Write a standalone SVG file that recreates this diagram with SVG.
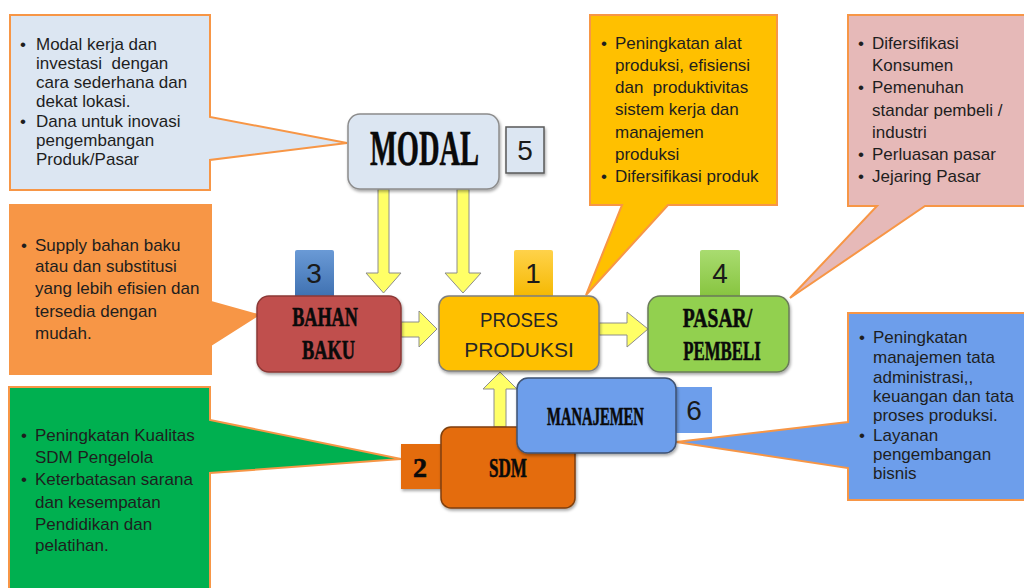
<svg xmlns="http://www.w3.org/2000/svg" width="1024" height="588" viewBox="0 0 1024 588">
<style>
.co{stroke:#f79646;stroke-width:2;stroke-linejoin:miter}
.ct{font-family:"Liberation Sans",Arial,sans-serif;font-size:17px;fill:#1e1e1e}
.ttl{font-family:"Liberation Serif","Times New Roman",serif;font-weight:bold;fill:#0a0a0a;stroke:#0a0a0a;stroke-width:0.6;text-anchor:middle}
.lbl{font-family:"Liberation Sans",Arial,sans-serif;fill:#262626;text-anchor:middle}
.num{font-family:"Liberation Sans",Arial,sans-serif;font-size:28px;fill:#1a1a1a;text-anchor:middle}
.arr{fill:#ffff66;stroke:#8c8c8c;stroke-width:1;stroke-linejoin:miter}
.nd{stroke-width:1.5;filter:url(#sh)}
.pre{white-space:pre}
</style>
<defs>
<filter id="sh" x="-10%" y="-10%" width="125%" height="130%">
<feDropShadow dx="1" dy="2" stdDeviation="1.5" flood-color="#000" flood-opacity="0.35"/>
</filter>
<linearGradient id="gBlue" x1="0" y1="0" x2="0" y2="1"><stop offset="0" stop-color="#6a9ad6"/><stop offset="1" stop-color="#3e70b0"/></linearGradient>
<linearGradient id="gYel" x1="0" y1="0" x2="0" y2="1"><stop offset="0" stop-color="#ffd24a"/><stop offset="1" stop-color="#f5b800"/></linearGradient>
<linearGradient id="gGrn" x1="0" y1="0" x2="0" y2="1"><stop offset="0" stop-color="#a9dc70"/><stop offset="1" stop-color="#86c43e"/></linearGradient>
</defs>
<rect width="1024" height="588" fill="#ffffff"/>

<!-- callouts -->
<g id="callout-modal">
<path class="co" fill="#dce6f2" d="M10,15 H210 V117 L347,143 L210,160 V190 H10 Z"/>
<text class="ct" x="20" y="50">•</text><text class="ct" x="36" y="50">Modal kerja dan</text>
<text class="ct pre" x="36" y="69">investasi  dengan</text>
<text class="ct" x="36" y="88">cara sederhana dan</text>
<text class="ct" x="36" y="107">dekat lokasi.</text>
<text class="ct" x="20" y="127">•</text><text class="ct" x="36" y="127">Dana untuk inovasi</text>
<text class="ct" x="36" y="146">pengembangan</text>
<text class="ct" x="36" y="165">Produk/Pasar</text>
</g>

<g id="callout-proses">
<path class="co" fill="#ffc000" d="M590,15 H777 V205 H668 L586,295 L622,205 H590 Z"/>
<text class="ct" x="601" y="49">•</text><text class="ct" x="615" y="49">Peningkatan alat</text>
<text class="ct" x="615" y="71">produksi, efisiensi</text>
<text class="ct pre" x="615" y="93">dan  produktivitas</text>
<text class="ct" x="615" y="115">sistem kerja dan</text>
<text class="ct" x="615" y="138">manajemen</text>
<text class="ct" x="615" y="160">produksi</text>
<text class="ct" x="601" y="182">•</text><text class="ct" x="615" y="182">Difersifikasi produk</text>
</g>

<g id="callout-pasar">
<path class="co" fill="#e6b9b8" d="M848,15 H1030 V206 H925 L790,298 L877,206 H848 Z"/>
<text class="ct" x="858" y="49">•</text><text class="ct" x="872" y="49">Difersifikasi</text>
<text class="ct" x="872" y="71">Konsumen</text>
<text class="ct" x="858" y="93">•</text><text class="ct" x="872" y="93">Pemenuhan</text>
<text class="ct" x="872" y="116">standar pembeli /</text>
<text class="ct" x="872" y="138">industri</text>
<text class="ct" x="858" y="160">•</text><text class="ct" x="872" y="160">Perluasan pasar</text>
<text class="ct" x="858" y="182">•</text><text class="ct" x="872" y="182">Jejaring Pasar</text>
</g>

<g id="callout-bahan">
<path class="co" fill="#f79646" stroke="#e8873a" d="M10,205 H211 V302 L258,315 L211,345 V374 H10 Z"/>
<text class="ct" x="21" y="251">•</text><text class="ct" x="35" y="251">Supply bahan baku</text>
<text class="ct" x="35" y="272">atau dan substitusi</text>
<text class="ct" x="35" y="294">yang lebih efisien dan</text>
<text class="ct" x="35" y="317">tersedia dengan</text>
<text class="ct" x="35" y="339">mudah.</text>
</g>

<g id="callout-sdm">
<path class="co" fill="#00b050" d="M9,387 H210 V420 L401,459 L210,473 V600 H9 Z"/>
<text class="ct" x="21" y="441">•</text><text class="ct" x="35" y="441">Peningkatan Kualitas</text>
<text class="ct" x="35" y="463">SDM Pengelola</text>
<text class="ct" x="21" y="485">•</text><text class="ct" x="35" y="485">Keterbatasan sarana</text>
<text class="ct" x="35" y="508">dan kesempatan</text>
<text class="ct" x="35" y="530">Pendidikan dan</text>
<text class="ct" x="35" y="551">pelatihan.</text>
</g>

<g id="callout-manajemen">
<path class="co" fill="#6d9eeb" d="M848,313 H1030 V500 H848 V468 L676,442 L848,422 Z"/>
<text class="ct" x="859" y="343">•</text><text class="ct" x="873" y="343">Peningkatan</text>
<text class="ct" x="873" y="363">manajemen tata</text>
<text class="ct" x="873" y="383">administrasi,,</text>
<text class="ct" x="873" y="402">keuangan dan tata</text>
<text class="ct" x="873" y="421">proses produksi.</text>
<text class="ct" x="859" y="441">•</text><text class="ct" x="873" y="441">Layanan</text>
<text class="ct" x="873" y="460">pengembangan</text>
<text class="ct" x="873" y="479">bisnis</text>
</g>

<!-- connectors -->
<g id="connectors">
<path class="arr" d="M378,189 H389 V273 H401 L383.5,293 L366,273 H378 Z"/>
<path class="arr" d="M457,189 H469 V273 H481 L463,293 L445,273 H457 Z"/>
<path class="arr" d="M401,322 H419 V311 L437,329 L419,347 V337 H401 Z"/>
<path class="arr" d="M599,323 H627 V312 L648,329 L627,347 V335 H599 Z"/>
<path class="arr" d="M494,427 V389 H483 L500,372 L517,389 H506 V427 Z"/>
</g>

<!-- nodes -->
<g id="node-modal">
<rect class="nd" x="348" y="114" width="151" height="75" rx="12" fill="#dce6f2" stroke="#8c8c8c"/>
<text class="ttl" transform="translate(424.5,165) scale(0.57,1)" font-size="50">MODAL</text>
<rect x="506" y="127" width="38" height="46" fill="#dce6f2" stroke="#595959" stroke-width="1.5" filter="url(#sh)"/>
<text class="num" x="525" y="160">5</text>
</g>

<g id="node-bahan-baku">
<rect x="295" y="250" width="39" height="48" rx="2" fill="url(#gBlue)"/>
<text class="num" x="314" y="283">3</text>
<rect class="nd" x="257" y="296" width="144" height="76" rx="12" fill="#c0504d" stroke="#8c3836"/>
<text class="ttl" transform="translate(325,326) scale(0.65,1)" font-size="28">BAHAN</text>
<text class="ttl" transform="translate(328.5,359) scale(0.655,1)" font-size="28">BAKU</text>
</g>

<g id="node-proses-produksi">
<rect x="514" y="250" width="39" height="48" rx="2" fill="url(#gYel)"/>
<text class="num" x="533" y="283">1</text>
<rect class="nd" x="439" y="296" width="160" height="75" rx="10" fill="#ffc000" stroke="#7f7f7f"/>
<text class="lbl" transform="translate(519,327) scale(0.89,1)" font-size="21">PROSES</text>
<text class="lbl" x="519" y="357" font-size="21">PRODUKSI</text>
</g>

<g id="node-pasar-pembeli">
<rect x="700" y="250" width="40" height="48" rx="2" fill="url(#gGrn)"/>
<text class="num" x="720" y="283">4</text>
<rect class="nd" x="648" y="296" width="141" height="76" rx="12" fill="#92d050" stroke="#6a7a5a"/>
<text class="ttl" transform="translate(717.5,327) scale(0.70,1)" font-size="28">PASAR/</text>
<text class="ttl" transform="translate(722,360) scale(0.60,1)" font-size="28">PEMBELI</text>
</g>

<g id="node-sdm">
<rect x="401" y="444" width="40" height="45" fill="#e46c0a" filter="url(#sh)"/>
<text class="ttl" x="420" y="477" font-size="28">2</text>
<rect class="nd" x="441" y="427" width="134" height="81" rx="10" fill="#e46c0a" stroke="#7f3f0a"/>
<text class="ttl" transform="translate(508,477) scale(0.61,1)" font-size="28">SDM</text>
</g>

<g id="node-manajemen">
<rect x="676" y="387" width="36" height="46" fill="#6d9eeb"/>
<text class="num" x="694" y="420">6</text>
<rect class="nd" x="517" y="378" width="159" height="75" rx="11" fill="#6d9eeb" stroke="#3f5272"/>
<text class="ttl" transform="translate(595.5,425) scale(0.564,1)" font-size="26">MANAJEMEN</text>
</g>
</svg>
